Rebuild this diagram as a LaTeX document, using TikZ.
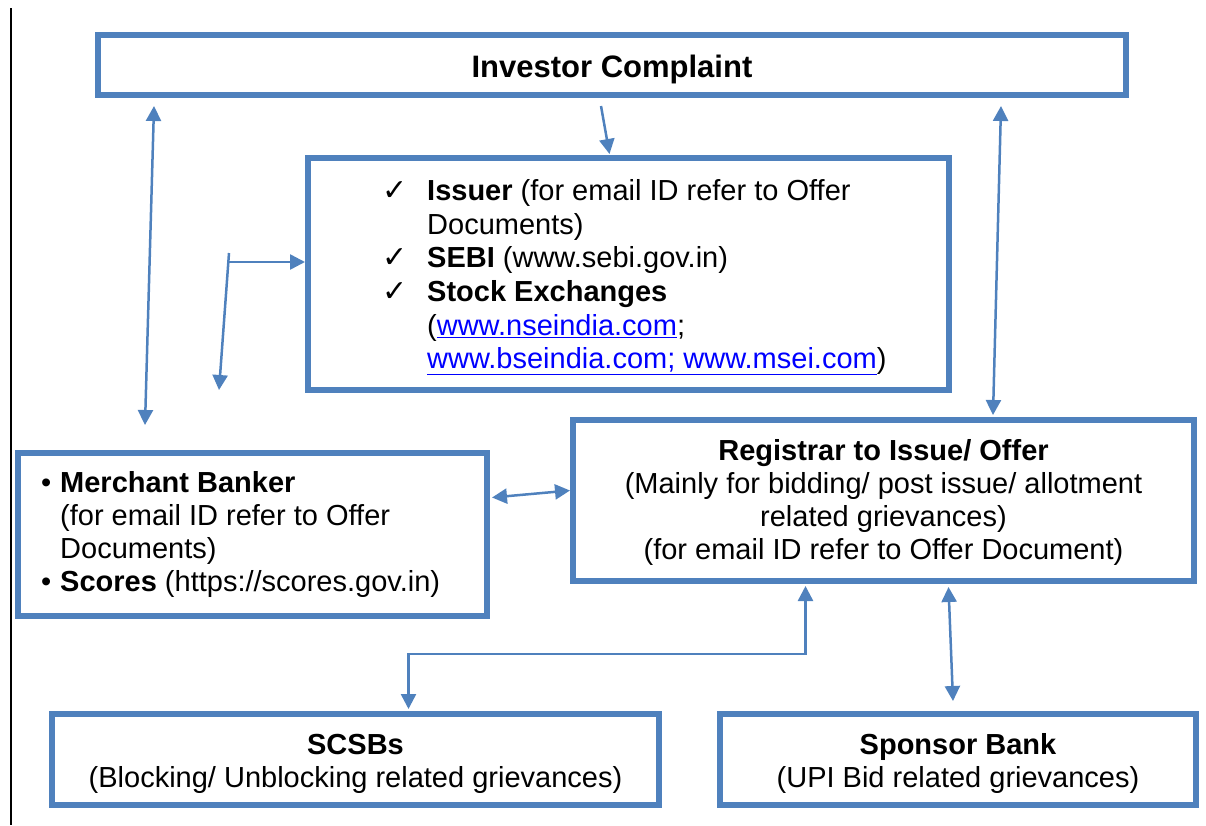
\documentclass[tikz,border=0pt]{standalone}
\usepackage{fontspec}
\setmainfont{Liberation Sans}
\newfontfamily\ticksym{DejaVu Sans}
\usetikzlibrary{arrows.meta,positioning}
\definecolor{boxblue}{RGB}{79,129,189}
\definecolor{linkblue}{RGB}{0,0,255}
\newcommand{\weblink}[1]{\textcolor{linkblue}{\underline{#1}}}
\newcommand{\tickmark}{\makebox[45pt][l]{\ticksym\fontsize{30}{33}\selectfont ✓}}
\newcommand{\bulletmark}{\makebox[19pt][l]{•}}
\tikzset{
mybox/.style={
  draw=boxblue,
  line width=6pt,
  inner sep=0pt,
  fill=white
  },
mytext/.style={
  inner sep=0pt,
  font=\fontsize{29}{33}\selectfont
  }
}
\tikzset{
  myarrow/.style={draw=boxblue, line width=2.5pt,
    -{Triangle[length=15pt,width=15pt]}},
  myarrows/.style={draw=boxblue, line width=2.5pt,
    {Triangle[length=15pt,width=15pt]}-{Triangle[length=15pt,width=15pt]}}
}

\begin{document}
\begin{tikzpicture}[x=1pt,y=-1pt]
\useasboundingbox (0,0) rectangle (1206,825);
\draw[line width=1.5pt] (11,8) -- (11,825);

% boxes
\node[mybox, minimum width=1028pt, minimum height=60pt]
    (complaint) at (612,65) {};
\node[mybox, minimum width=641pt, minimum height=232pt]
    (issuer) at (628.5,274) {};
\node[mybox, minimum width=469pt, minimum height=163pt]
    (merchant) at (252.5,534.5) {};
\node[mybox, minimum width=621pt, minimum height=161pt]
    (registrar) at (883.5,500.5) {};
\node[mybox, minimum width=607pt, minimum height=91pt]
    (scsb) at (355.5,759.5) {};
\node[mybox, minimum width=476pt, minimum height=91pt]
    (sponsor) at (958,759.5) {};

% texts
\node[mytext, font=\bfseries\fontsize{31}{36}\selectfont]
    (complaint-txt) at ([yshift=-4pt]complaint.center) {Investor Complaint};
\node[mytext, align=center]
    (registrar-txt) at ([yshift=-2pt]registrar.center)
    {\textbf{Registrar to Issue/ Offer}\\
     (Mainly for bidding/ post issue/ allotment\\
     related grievances)\\
     (for email ID refer to Offer Document)};
\node[mytext, align=center]
    (scsb-txt) at ([yshift=-4pt]scsb.center)
    {\textbf{SCSBs}\\(Blocking/ Unblocking related grievances)};
\node[mytext, align=center]
    (sponsor-txt) at ([yshift=-4pt]sponsor.center)
    {\textbf{Sponsor Bank}\\(UPI Bid related grievances)};
\node[mytext, anchor=west, font=\fontsize{29}{33.6}\selectfont]
    (issuer-list) at (382,278) {%
  \begin{tabular}{@{}l@{}l@{}}
  \tickmark & \textbf{Issuer} (for email ID refer to Offer\\
            & Documents)\\
  \tickmark & \textbf{SEBI} (www.sebi.gov.in)\\
  \tickmark & \textbf{Stock Exchanges}\\
            & (\weblink{www.nseindia.com};\\
            & \weblink{www.bseindia.com; www.msei.com})
  \end{tabular}};
\node[mytext, anchor=west]
    (merchant-list) at (41,535) {%
  \begin{tabular}{@{}l@{}l@{}}
  \bulletmark & \textbf{Merchant Banker}\\
              & (for email ID refer to Offer\\
              & Documents)\\
  \bulletmark & \textbf{Scores} (https://scores.gov.in)
  \end{tabular}};

% arrows
\begin{scope}
\coordinate(start) at([xshift=-11pt,yshift=-8pt]complaint.south);
\coordinate(end) at([xshift=-19pt,yshift=1pt]issuer.north);
\draw[myarrow] (start) -- (end);
\end{scope}

\begin{scope}
\coordinate(start) at([xshift=59pt,yshift=-8pt]complaint.south west);
\coordinate(end) at([xshift=130pt,yshift=25pt]merchant.north west);
\draw[myarrows] (start) -- (end);
\end{scope}

\begin{scope}
\coordinate(start) at([xshift=-128pt,yshift=-8pt]complaint.south east);
\coordinate(end) at([xshift=-204pt,yshift=2pt]registrar.north east);
\draw[myarrows] (start) -- (end);
\end{scope}

\begin{scope}
\coordinate(fork) at(229,262);
\coordinate(fork-end) at(219,390);
\draw[myarrow] (fork) -- (issuer.west |- fork);
\draw[myarrow] ([yshift=9pt]fork) -- (fork-end);
\end{scope}

\begin{scope}
\coordinate(start) at([xshift=2pt,yshift=37pt]merchant.east);
\coordinate(end) at([yshift=10pt]registrar.west);
\draw[myarrows] (start) -- (end);
\end{scope}

\begin{scope}
\coordinate(start) at([xshift=-78pt,yshift=-2pt]registrar.south);
\coordinate(end) at([xshift=53pt,yshift=2pt]scsb.north);
\draw[myarrows] (start) -- ++(0,68) -| (end);
\end{scope}

\begin{scope}
\coordinate(start) at([xshift=65pt,yshift=-3pt]registrar.south);
\coordinate(end) at([xshift=-5pt,yshift=10pt]sponsor.north);
\draw[myarrows] (start) -- (end);
\end{scope}

\end{tikzpicture}
\end{document}
